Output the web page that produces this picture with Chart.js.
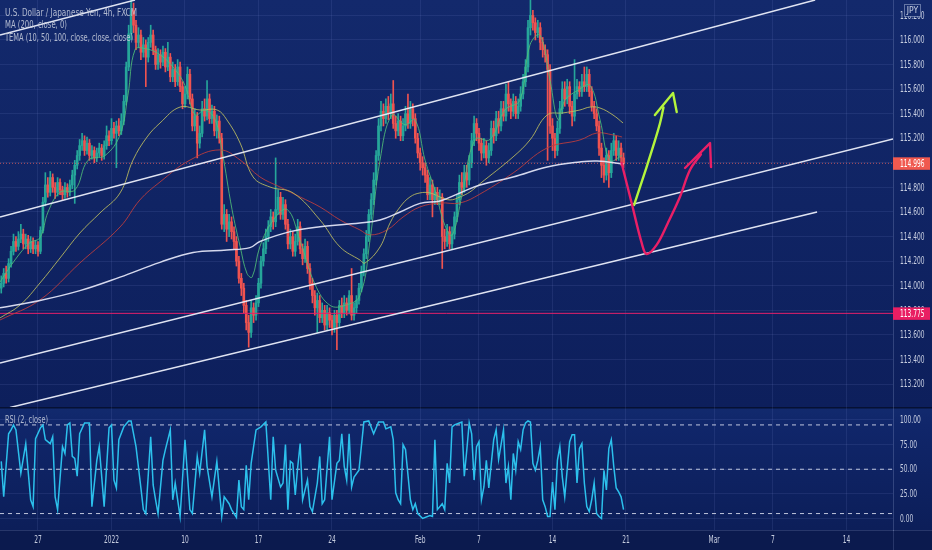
<!DOCTYPE html>
<html><head><meta charset="utf-8">
<script src="https://cdn.jsdelivr.net/npm/chart.js@4.4.1/dist/chart.umd.min.js"></script>
<style>
html,body{margin:0;padding:0;background:#0b1a4e;width:932px;height:550px;overflow:hidden}
#p{position:absolute;left:0;top:0;width:932px;height:407px}
#r{position:absolute;left:0;top:407px;width:932px;height:143px}
canvas{display:block}
</style></head><body>
<div id="p"><canvas id="pc" width="932" height="407"></canvas></div>
<div id="r"><canvas id="rc" width="932" height="143"></canvas></div>
<script>
// ---------------- DATA ----------------
const titleText = "U.S. Dollar / Japanese Yen, 4h, FXCM";
const maText = "MA (200, close, 0)";
const temaText = "TEMA (10, 50, 100, close, close, close)";
const rsiText = "RSI (2, close)";
const currencyText = "JPY";

const xTickBars = [15,45,75,105,135,171,195,225,255,291,315,345];
const xTickLabels = ['27','2022','10','17','24','Feb','7','14','21','Mar','7','14'];
const priceTicks = [113.2,113.4,113.6,113.8,114.0,114.2,114.4,114.6,114.8,115.0,115.2,115.4,115.6,115.8,116.0,116.2];
const rsiTicks = [0,25,50,75,100];
const rsiLevels = [95,50,5];

const firstOpen = 113.98;
const closes = [
114.02,114.10,114.06,114.18,114.28,114.36,114.32,114.38,114.42,114.34,
114.38,114.30,114.36,114.30,114.33,114.28,114.45,114.68,114.82,114.76,
114.88,114.80,114.76,114.84,114.78,114.74,114.80,114.76,114.82,114.90,
114.98,115.06,115.14,115.18,115.10,115.16,115.06,115.10,115.04,115.08,
115.12,115.06,115.14,115.22,115.18,115.28,115.24,115.30,115.26,115.34,
115.50,115.78,116.05,116.24,116.12,115.98,116.04,115.90,115.96,115.86,
115.98,116.04,115.92,115.80,115.88,115.82,115.90,115.78,115.86,115.70,
115.76,115.66,115.78,115.62,115.48,115.56,115.72,115.52,115.30,115.38,
115.16,115.24,115.44,115.38,115.52,115.36,115.42,115.26,115.34,115.20,
114.50,114.58,114.46,114.52,114.44,114.36,114.20,114.06,113.98,113.84,
113.70,113.62,113.82,113.76,113.86,114.02,114.20,114.30,114.40,114.48,
114.56,114.52,114.62,114.72,114.58,114.66,114.50,114.34,114.40,114.28,
114.36,114.48,114.30,114.22,114.32,114.14,114.02,113.92,113.82,113.88,
113.74,113.80,113.68,113.78,113.72,113.66,113.76,113.70,113.84,113.78,
113.86,113.80,113.92,113.76,113.82,113.88,113.98,114.12,114.26,114.40,
114.58,114.70,114.86,115.06,115.30,115.42,115.36,115.46,115.40,115.48,
115.32,115.26,115.34,115.22,115.30,115.40,115.32,115.44,115.36,115.20,
115.08,115.00,114.96,114.90,114.74,114.82,114.70,114.76,114.70,114.72,
114.40,114.36,114.44,114.34,114.42,114.56,114.70,114.84,114.80,114.92,
114.86,115.00,115.18,115.32,115.24,115.16,115.08,115.14,115.04,115.10,
115.28,115.22,115.36,115.30,115.44,115.38,115.56,115.48,115.42,115.50,
115.40,115.46,115.56,115.66,115.78,116.10,116.20,116.14,116.06,116.10,
115.98,115.92,115.88,115.76,115.30,115.20,115.10,115.28,115.44,115.60,
115.52,115.62,115.46,115.38,115.56,115.62,115.58,115.66,115.62,115.72,
115.58,115.46,115.40,115.30,115.12,114.98,114.90,115.06,114.92,115.10,
115.18,115.06,115.12,115.04,114.996
];
const highs = [
114.08,114.14,114.16,114.22,114.32,114.42,114.40,114.44,114.50,114.46,
114.42,114.41,114.40,114.39,114.37,114.36,114.48,114.72,114.92,114.88,
114.93,114.91,114.84,114.88,114.87,114.81,114.84,114.83,114.86,114.94,
115.02,115.10,115.19,115.24,115.22,115.21,115.19,115.14,115.13,115.12,
115.16,115.15,115.18,115.30,115.26,115.36,115.33,115.34,115.36,115.40,
115.55,115.82,116.12,116.33,116.30,116.16,116.10,116.08,116.02,116.00,
116.02,116.12,116.08,115.95,115.93,115.92,115.95,115.93,115.98,115.89,
115.82,115.80,115.84,115.82,115.66,115.62,115.78,115.76,115.56,115.44,
115.41,115.30,115.50,115.52,115.67,115.56,115.47,115.46,115.39,115.38,
115.24,114.66,114.62,114.58,114.56,114.48,114.40,114.24,114.10,114.02,
113.88,113.76,113.88,113.86,113.92,114.06,114.24,114.35,114.46,114.53,
114.62,114.60,115.04,114.78,114.76,114.72,114.70,114.54,114.46,114.44,
114.42,114.54,114.52,114.34,114.38,114.36,114.18,114.06,113.96,113.94,
113.92,113.86,113.84,113.84,113.82,113.76,113.80,113.80,113.88,113.90,
113.92,113.90,113.96,114.14,113.86,113.92,114.02,114.16,114.30,114.45,
114.62,114.75,114.92,115.10,115.36,115.50,115.48,115.52,115.54,115.56,
115.67,115.38,115.40,115.38,115.36,115.46,115.56,115.50,115.48,115.40,
115.24,115.12,115.05,115.00,114.94,114.88,114.86,114.80,114.80,114.78,
114.75,114.46,114.50,114.48,114.48,114.60,114.74,114.90,114.92,114.98,
114.98,115.06,115.24,115.38,115.36,115.28,115.20,115.20,115.18,115.16,
115.34,115.34,115.42,115.42,115.50,115.50,115.64,115.66,115.52,115.56,
115.54,115.52,115.62,115.72,115.84,116.16,116.33,116.24,116.18,116.16,
116.14,116.02,115.96,115.92,115.80,115.36,115.24,115.34,115.50,115.66,
115.66,115.68,115.66,115.50,115.84,115.68,115.66,115.72,115.78,115.78,
115.76,115.62,115.50,115.44,115.34,115.16,115.04,115.12,115.10,115.16,
115.24,115.22,115.18,115.16,115.08
];
const lows = [
113.94,113.99,114.02,114.03,114.15,114.25,114.28,114.29,114.35,114.30,
114.30,114.26,114.27,114.26,114.26,114.24,114.26,114.43,114.65,114.72,
114.73,114.76,114.71,114.73,114.74,114.70,114.71,114.72,114.73,114.79,
114.67,114.95,115.02,115.10,115.06,115.07,115.02,115.03,115.00,115.01,
115.05,115.02,115.03,115.11,115.14,115.15,115.20,114.96,115.22,115.23,
115.31,115.47,115.75,116.00,116.06,115.92,115.94,115.84,115.86,115.62,
115.82,115.94,115.88,115.76,115.76,115.77,115.79,115.74,115.75,115.66,
115.66,115.62,115.63,115.58,115.44,115.45,115.52,115.48,115.26,115.26,
115.04,115.12,115.21,115.34,115.35,115.32,115.32,115.22,115.20,115.16,
114.46,114.44,114.36,114.40,114.38,114.30,114.16,114.02,113.92,113.78,
113.64,113.50,113.58,113.70,113.72,113.83,113.98,114.16,114.26,114.36,
114.44,114.46,114.48,114.58,114.54,114.54,114.46,114.30,114.30,114.24,
114.24,114.33,114.26,114.17,114.19,114.10,113.97,113.86,113.76,113.62,
113.70,113.70,113.64,113.64,113.66,113.60,113.62,113.48,113.66,113.74,
113.74,113.76,113.77,113.72,113.72,113.78,113.85,113.95,114.08,114.22,
114.36,114.54,114.66,114.82,115.02,115.26,115.30,115.32,115.35,115.36,
115.28,115.20,115.22,115.18,115.18,115.26,115.28,115.28,115.30,115.16,
115.04,114.94,114.90,114.84,114.70,114.70,114.56,114.66,114.66,114.66,
114.14,114.30,114.32,114.30,114.30,114.38,114.52,114.66,114.74,114.76,
114.80,114.82,114.96,115.14,115.18,115.10,115.02,115.04,114.98,115.00,
115.06,115.16,115.18,115.24,115.26,115.34,115.34,115.42,115.36,115.38,
115.36,115.36,115.42,115.52,115.62,115.74,116.04,116.08,116.00,116.02,
115.92,115.86,115.82,115.02,115.24,115.10,115.04,115.06,115.24,115.40,
115.46,115.48,115.40,115.30,115.34,115.52,115.54,115.54,115.58,115.58,
115.54,115.42,115.36,115.26,115.06,114.88,114.84,114.86,114.80,114.88,
115.06,115.02,115.02,114.98,114.96
];

// indicator lines: [bar, value]
const ma200 = [[-0.5,113.82],[15.8,113.88],[32.1,113.96],[48.5,114.07],[64.8,114.19],[78.3,114.27],[92.1,114.29],[101.5,114.31],[105.6,114.36],[117.9,114.44],[130.1,114.48],[146.4,114.51],[154.6,114.535],[162.8,114.60],[170.9,114.67],[179.1,114.69],[187.2,114.755],[195.4,114.82],[208.9,114.885],[222.8,114.966],[236.2,115.007],[243.2,115.015],[254,114.99]];
const tema10 = [[-0.5,114.03],[5.6,114.21],[11.7,114.35],[15.8,114.39],[19.1,114.60],[24.0,114.76],[30.1,114.78],[35.4,115.02],[42.4,115.06],[48.5,115.23],[51.7,115.55],[54.6,115.92],[58.7,115.93],[64.8,115.88],[70.9,115.76],[75.0,115.63],[79.1,115.39],[83.2,115.43],[87.3,115.35],[90.1,115.10],[94.2,114.62],[97.5,114.32],[100.3,114.10],[102.4,114.07],[105.6,114.32],[110.9,114.53],[116.7,114.62],[121.9,114.37],[128.1,114.01],[134.2,113.84],[140.3,113.84],[146.4,113.92],[150.5,114.37],[154.6,115.02],[159.5,115.39],[164.8,115.31],[168.9,115.35],[173.0,115.02],[177.0,114.78],[181.1,114.49],[184.0,114.41],[188.1,114.74],[193.4,115.19],[199.5,115.19],[205.6,115.43],[211.7,115.51],[215.8,115.96],[219.9,116.04],[224.0,115.67],[227.3,115.35],[230.1,115.51],[235.4,115.59],[240.3,115.63],[244.4,115.35],[248.5,115.02],[253.4,115.06]];
const tema50 = [[-0.5,113.738],[7.7,113.843],[15.8,114.022],[24.0,114.226],[32.1,114.429],[40.3,114.592],[48.5,114.755],[53.8,115.023],[59.5,115.21],[64.8,115.324],[73.0,115.454],[81.1,115.43],[88.1,115.43],[92.1,115.349],[97.5,115.161],[102.8,114.885],[109.7,114.803],[119.1,114.755],[130.1,114.535],[138.3,114.315],[146.4,114.209],[148.5,114.185],[154.6,114.315],[158.7,114.511],[162.8,114.641],[166.8,114.722],[170.9,114.755],[175.0,114.755],[179.1,114.722],[183.2,114.698],[187.2,114.722],[191.3,114.763],[195.4,114.83],[208.9,115.048],[215.8,115.186],[222.8,115.389],[229.3,115.406],[236.2,115.43],[240.3,115.454],[244.4,115.446],[249.7,115.389],[253.8,115.324]];
const tema100 = [[-0.5,113.721],[15.8,113.884],[32.1,114.185],[48.5,114.478],[56.6,114.698],[64.8,114.844],[77.1,115.023],[89.3,115.105],[97.5,115.023],[105.6,114.885],[113.8,114.803],[122.0,114.722],[130.1,114.641],[138.3,114.535],[146.4,114.454],[150.5,114.413],[157.5,114.454],[164.0,114.559],[170.9,114.641],[179.1,114.673],[187.2,114.673],[195.4,114.746],[208.9,114.917],[222.8,115.121],[236.2,115.186],[243.2,115.243],[249.7,115.227],[253.4,115.21]];

// trend-line drawings: [bar, price]
const channelA = [[-0.51,114.559],[332.2,116.325]];
const channelB = [[-0.51,113.371],[364,115.195]];
const channelC = [[3.57,113.009],[333,114.60]];
const channelD = [[-0.51,116.04],[54.6,116.325]];
const lastPrice = 114.996;
const levelPrice = 113.775;

// hand-drawn arrows: [bar, price]
const pinkPath = [[253.2,114.999],[257.3,114.673],[261.4,114.348],[263.4,114.258],[267.5,114.332],[272.1,114.511],[277.0,114.722],[281.1,114.942],[285.6,115.07]];
const pinkHead = [[279.1,114.958],[289.3,115.161],[289.7,114.966]];
const greenPath = [[258.3,114.657],[260.7,114.803],[263.4,114.966],[266.0,115.129],[268.9,115.324],[270.3,115.45]];
const greenHead = [[266.8,115.389],[274.2,115.568],[275.7,115.414]];

// RSI(2)
const rsiBars = [0,1,3,4,5,6,8,10,12,13,14,16,17,18,20,21,22,23,25,26,27,28,29,30,31,32,34,36,37,39,40,42,44,45,46,47,48,50,52,53,55,57,58,59,61,62,63,64,66,67,69,70,71,73,75,77,78,80,81,83,84,86,88,90,91,93,94,96,97,98,99,100,101,102,104,106,108,110,111,112,114,115,116,117,118,119,120,121,122,123,125,126,127,129,130,131,132,134,135,137,138,139,140,141,142,143,144,146,148,150,152,154,156,157,159,160,161,162,163,164,165,167,168,169,170,172,175,176,177,178,180,181,182,183,184,185,187,188,189,190,191,192,193,194,195,196,197,198,199,201,202,203,205,206,207,208,209,210,211,212,213,214,215,216,217,218,219,220,221,222,223,224,225,226,227,228,229,230,232,233,234,235,236,237,238,239,240,241,242,243,244,245,246,247,248,249,250,251,252,253,254];
const rsiVals = [58,22,86,90,95,90,46,76,19,12,81,92,95,80,76,83,22,9,73,66,95,97,63,61,43,86,97,97,12,59,73,12,92,95,39,31,80,93,99,99,73,31,9,5,83,34,19,5,59,70,90,19,36,2,80,9,5,63,46,90,53,22,58,2,22,15,9,1,39,12,9,54,19,56,90,93,98,19,83,49,32,36,75,9,58,56,24,52,76,19,39,12,7,36,63,15,19,83,19,56,59,86,53,39,86,32,42,49,98,99,86,98,98,91,93,80,26,19,15,75,70,19,9,15,5,0,3,2,80,9,15,9,56,36,93,95,97,98,43,69,97,86,39,73,78,19,32,59,31,80,90,60,90,36,53,19,66,49,78,70,90,97,99,98,56,49,59,73,19,12,2,2,37,9,59,73,42,22,78,85,85,36,71,76,36,12,7,19,36,5,2,0,49,29,71,80,53,31,27,22,9];

// ---------------- STYLE ----------------
const FONT = '"Liberation Sans Narrow","DejaVu Sans Condensed","Roboto Condensed",Roboto,"Liberation Sans",sans-serif';
const TXT = 'rgba(205,210,225,0.85)';
const AXTXT = 'rgba(215,220,236,0.92)';
const GRID = 'rgba(130,150,215,0.13)';
const UP = '#26a69a', DOWN = '#ef5350';
const X_MIN = -0.51, X_MAX = 363.98;
const P_MIN = 113.013, P_MAX = 116.325;
const AXFONT = '10.5px ' + FONT;
Chart.defaults.font.family = FONT;
Chart.defaults.color = TXT;

const xy = a => a.map(p => ({x:p[0], y:p[1]}));
const opens = closes.map((c,i) => i === 0 ? firstOpen : closes[i-1]);
const bodies = closes.map((c,i) => ({x:i, y:[opens[i], c]}));
const wicks = closes.map((c,i) => ({x:i, y:[lows[i], highs[i]]}));
const candleCol = closes.map((c,i) => c >= opens[i] ? UP : DOWN);
const fullRow = v => [{x:X_MIN, y:v},{x:X_MAX, y:v}];

function lineDs(data, color, width, order, extra){
  return Object.assign({type:'line', data, borderColor:color, borderWidth:width, pointRadius:0, fill:false, order, tension:0}, extra||{});
}
function fitText(ctx, txt, x, y, w){
  const m = ctx.measureText(txt).width;
  ctx.save(); ctx.translate(x,y); ctx.scale(w/m,1); ctx.fillText(txt,0,0); ctx.restore();
}
// axis text is condensed like the reference: "115.200" is ~24.5px wide
function axisScale(ctx){ ctx.font = AXFONT; return 24.5 / ctx.measureText('116.000').width; }
function sText(ctx, txt, x, y, sx, align){
  ctx.save(); ctx.translate(x,y); ctx.scale(sx,1); ctx.textAlign = align||'left'; ctx.fillText(txt,0,0); ctx.restore();
}
function drawYLabels(c, fmt){
  const ctx=c.ctx, s=c.scales.y, sx=axisScale(ctx);
  ctx.save(); ctx.font=AXFONT; ctx.fillStyle=AXTXT; ctx.textBaseline='middle';
  s.ticks.forEach(t => sText(ctx, fmt(t.value), c.chartArea.right+7, s.getPixelForValue(t.value)+0.5, sx));
  ctx.restore();
}

const priceBg = {id:'priceBg', beforeDraw(c){
  const ctx=c.ctx; const g=ctx.createLinearGradient(0,0,0,c.height);
  g.addColorStop(0,'#13296c'); g.addColorStop(1,'#0d1f5c');
  ctx.save(); ctx.fillStyle=g; ctx.fillRect(0,0,c.width,c.height); ctx.restore();
}};
const priceOverlay = {id:'priceOverlay', afterDraw(c){
  const ctx=c.ctx, ys=c.scales.y;
  drawYLabels(c, v => v.toFixed(3));
  ctx.save();
  ctx.font = '10.5px '+FONT; ctx.fillStyle=TXT; ctx.textBaseline='middle'; ctx.textAlign='left';
  fitText(ctx, titleText, 5, 13, 132);
  fitText(ctx, maText, 5, 25.5, 62);
  fitText(ctx, temaText, 5, 38, 128);
  const ax = c.chartArea.right, sx = axisScale(ctx);
  function badge(v, color){
    const y = ys.getPixelForValue(v);
    ctx.fillStyle=color; ctx.fillRect(ax, y-6, 37, 12.5);
    ctx.fillStyle='#ffffff'; ctx.font=AXFONT; ctx.textBaseline='middle';
    sText(ctx, v.toFixed(3), ax+7, y+0.5, sx);
  }
  badge(lastPrice, '#f0594f');
  badge(levelPrice, '#e91e63');
  // currency badge
  ctx.fillStyle='#13296c'; ctx.fillRect(904,4.5,17,12);
  ctx.strokeStyle='rgba(200,210,235,0.45)'; ctx.lineWidth=1; ctx.strokeRect(904.5,4.5,16,12);
  ctx.fillStyle='rgba(220,225,240,0.9)'; ctx.font='8.5px '+FONT; ctx.textAlign='center';
  ctx.fillText(currencyText, 912.5, 10.8);
  ctx.restore();
}};

new Chart(document.getElementById('pc'), {
  type:'bar',
  data:{datasets:[
    lineDs(xy(pinkPath), '#ea1f66', 2.4, 0, {tension:0.35, borderCapStyle:'round', borderJoinStyle:'round'}),
    lineDs(xy(pinkHead), '#ea1f66', 2.4, 0, {borderCapStyle:'round', borderJoinStyle:'round'}),
    lineDs(xy(greenPath), '#b4f53c', 2.4, 0, {tension:0.35, borderCapStyle:'round', borderJoinStyle:'round'}),
    lineDs(xy(greenHead), '#b4f53c', 2.4, 0, {borderCapStyle:'round', borderJoinStyle:'round'}),
    lineDs(xy(channelA), 'rgba(235,238,250,0.95)', 1.5, 1),
    lineDs(xy(channelB), 'rgba(235,238,250,0.95)', 1.5, 1),
    lineDs(xy(channelC), 'rgba(235,238,250,0.95)', 1.5, 1),
    lineDs(xy(channelD), 'rgba(235,238,250,0.95)', 1.5, 1),
    lineDs(xy(ma200), 'rgba(230,232,250,0.92)', 1.5, 2, {tension:0.4}),
    lineDs(xy(tema10), 'rgba(80,190,120,0.85)', 1, 2, {tension:0.4}),
    lineDs(xy(tema50), 'rgba(190,190,95,0.85)', 1, 2, {tension:0.4}),
    lineDs(xy(tema100), 'rgba(185,60,62,0.9)', 1, 2, {tension:0.4}),
    lineDs(fullRow(levelPrice), '#e2206a', 1, 3),
    lineDs(fullRow(lastPrice), 'rgba(240,97,91,0.75)', 1, 3, {borderDash:[1,2]}),
    {type:'bar', data:bodies, backgroundColor:candleCol, borderWidth:0, barThickness:2, grouped:false, minBarLength:1, order:8},
    {type:'bar', data:wicks, backgroundColor:candleCol, borderWidth:0, barThickness:1, grouped:false, order:9}
  ]},
  options:{
    responsive:false, animation:false, events:[],
    layout:{padding:0},
    plugins:{legend:{display:false}, tooltip:{enabled:false}},
    scales:{
      x:{type:'linear', min:X_MIN, max:X_MAX, offset:false,
        afterBuildTicks:s=>{s.ticks = xTickBars.map(v=>({value:v}));},
        ticks:{display:false}, grid:{color:GRID, drawTicks:false, offset:false}, border:{display:false},
        afterFit:s=>{s.height=0; s.paddingLeft=0; s.paddingRight=0;}},
      y:{type:'linear', position:'right', min:P_MIN, max:P_MAX,
        afterBuildTicks:s=>{s.ticks = priceTicks.map(v=>({value:v}));},
        ticks:{display:false},
        grid:{color:GRID, drawTicks:false}, border:{display:true, color:'rgba(160,175,220,0.25)'},
        afterFit:s=>{s.width=39; s.paddingTop=0; s.paddingBottom=0;}}
    }
  },
  plugins:[priceBg, priceOverlay]
});

const rsiBg = {id:'rsiBg', beforeDraw(c){
  const ctx=c.ctx, a=c.chartArea;
  ctx.save();
  const g=ctx.createLinearGradient(0,0,0,a.bottom);
  g.addColorStop(0,'#122a6e'); g.addColorStop(0.15,'#10266a'); g.addColorStop(1,'#0c1e59');
  ctx.fillStyle=g; ctx.fillRect(0,0,c.width,a.bottom);
  ctx.fillStyle='#0b1a4e'; ctx.fillRect(0,a.bottom,c.width,c.height-a.bottom);
  ctx.fillStyle='rgba(6,14,45,0.9)'; ctx.fillRect(0,0,c.width,1.5);
  ctx.restore();
}};
const rsiOverlay = {id:'rsiOverlay', afterDraw(c){
  const ctx=c.ctx, a=c.chartArea, xs=c.scales.x;
  drawYLabels(c, v => v.toFixed(2));
  ctx.save();
  ctx.strokeStyle='rgba(160,175,220,0.2)'; ctx.lineWidth=1;
  ctx.beginPath(); ctx.moveTo(0,a.bottom+0.5); ctx.lineTo(c.width,a.bottom+0.5); ctx.stroke();
  ctx.beginPath(); ctx.moveTo(a.right+0.5,a.bottom); ctx.lineTo(a.right+0.5,c.height); ctx.stroke();
  const sx = axisScale(ctx);
  ctx.font=AXFONT; ctx.fillStyle=AXTXT; ctx.textBaseline='middle';
  xs.ticks.forEach((t,i) => sText(ctx, xTickLabels[i], xs.getPixelForValue(t.value), a.bottom+10.5, sx, 'center'));
  ctx.textAlign='left'; ctx.fillStyle=TXT;
  fitText(ctx, rsiText, 5, 13, 43);
  ctx.restore();
}};

new Chart(document.getElementById('rc'), {
  type:'line',
  data:{datasets:[
    lineDs(rsiBars.map((b,i)=>({x:b, y:rsiVals[i]})), '#2cc0ec', 1.5, 0),
    ...rsiLevels.map(v => lineDs(fullRow(v), 'rgba(235,238,250,0.8)', 1, 1, {borderDash:[4,4]}))
  ]},
  options:{
    responsive:false, animation:false, events:[],
    layout:{padding:0},
    plugins:{legend:{display:false}, tooltip:{enabled:false}},
    scales:{
      x:{type:'linear', min:X_MIN, max:X_MAX, offset:false,
        afterBuildTicks:s=>{s.ticks = xTickBars.map(v=>({value:v}));},
        ticks:{display:false},
        grid:{color:GRID, drawTicks:false}, border:{display:false},
        afterFit:s=>{s.height=20; s.paddingLeft=0; s.paddingRight=0;}},
      y:{type:'linear', position:'right', min:-11.7, max:113.2,
        afterBuildTicks:s=>{s.ticks = rsiTicks.map(v=>({value:v}));},
        ticks:{display:false},
        grid:{color:GRID, drawTicks:false}, border:{display:true, color:'rgba(160,175,220,0.25)'},
        afterFit:s=>{s.width=39; s.paddingTop=0; s.paddingBottom=0;}}
    }
  },
  plugins:[rsiBg, rsiOverlay]
});
</script>
</body></html>
